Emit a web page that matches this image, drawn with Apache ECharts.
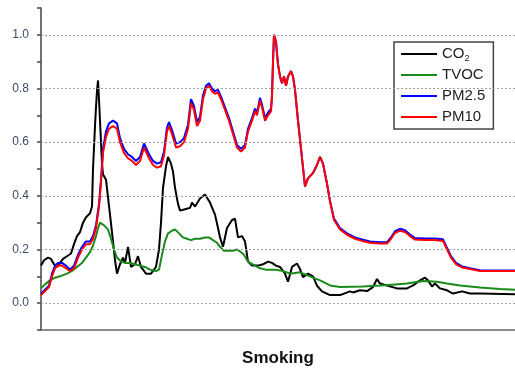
<!DOCTYPE html>
<html>
<head>
<meta charset="utf-8">
<script src="https://cdn.jsdelivr.net/npm/echarts@6/dist/echarts.min.js"></script>
<style>
  html, body { margin: 0; padding: 0; background: #fff; }
  #chart { width: 515px; height: 372px; }
</style>
</head>
<body>
<div id="chart"></div>
<script>
// time index (arbitrary units) and normalised readings
const pmTime = [41, 45, 49, 52, 55, 58, 62, 66, 70, 74, 78, 82, 86, 90, 93, 96, 99, 101, 103, 106, 109, 113, 117, 120, 124, 128, 132, 136, 140, 144, 146, 149, 153, 157, 161, 164, 167, 169, 172, 176, 180, 184, 188, 191, 194, 197, 200, 203, 206, 209, 212, 215, 218, 221, 225, 229, 233, 237, 241, 245, 248, 252, 255, 257, 260, 262, 265, 268, 271, 272, 273, 274, 276, 277, 278, 280, 282, 284, 286, 288, 291, 293, 295, 298, 302, 305, 308, 313, 317, 320, 323, 327, 330, 334, 340, 347, 355, 362, 370, 380, 387, 391, 395, 400, 405, 410, 415, 425, 435, 443, 447, 451, 456, 462, 470, 480, 495, 515];
const pm10 = [0.03, 0.045, 0.06, 0.10, 0.13, 0.14, 0.14, 0.13, 0.12, 0.13, 0.17, 0.20, 0.22, 0.22, 0.24, 0.28, 0.36, 0.45, 0.56, 0.62, 0.65, 0.66, 0.65, 0.60, 0.56, 0.54, 0.53, 0.515, 0.53, 0.58, 0.585, 0.54, 0.515, 0.505, 0.51, 0.55, 0.64, 0.66, 0.63, 0.58, 0.585, 0.60, 0.65, 0.745, 0.72, 0.66, 0.68, 0.76, 0.80, 0.81, 0.79, 0.78, 0.785, 0.76, 0.72, 0.68, 0.63, 0.58, 0.565, 0.58, 0.64, 0.68, 0.715, 0.70, 0.755, 0.73, 0.68, 0.70, 0.715, 0.77, 0.90, 1.0, 0.975, 0.93, 0.89, 0.845, 0.82, 0.845, 0.81, 0.845, 0.865, 0.845, 0.795, 0.68, 0.54, 0.435, 0.465, 0.485, 0.515, 0.545, 0.52, 0.445, 0.38, 0.31, 0.275, 0.255, 0.24, 0.232, 0.225, 0.222, 0.222, 0.24, 0.262, 0.27, 0.265, 0.25, 0.237, 0.235, 0.235, 0.232, 0.20, 0.17, 0.145, 0.133, 0.127, 0.12, 0.12, 0.12];
const pm25 = [0.035, 0.05, 0.065, 0.11, 0.14, 0.15, 0.15, 0.14, 0.125, 0.14, 0.18, 0.21, 0.23, 0.23, 0.25, 0.29, 0.37, 0.46, 0.575, 0.64, 0.67, 0.68, 0.67, 0.615, 0.575, 0.555, 0.545, 0.53, 0.545, 0.595, 0.60, 0.555, 0.53, 0.52, 0.525, 0.565, 0.655, 0.675, 0.645, 0.595, 0.60, 0.615, 0.665, 0.76, 0.735, 0.675, 0.695, 0.775, 0.81, 0.82, 0.80, 0.79, 0.795, 0.77, 0.73, 0.69, 0.64, 0.59, 0.575, 0.59, 0.65, 0.69, 0.725, 0.71, 0.765, 0.74, 0.69, 0.71, 0.725, 0.775, 0.90, 1.0, 0.975, 0.93, 0.89, 0.845, 0.82, 0.845, 0.81, 0.845, 0.865, 0.845, 0.795, 0.68, 0.54, 0.435, 0.465, 0.485, 0.515, 0.545, 0.52, 0.445, 0.38, 0.315, 0.28, 0.26, 0.245, 0.237, 0.23, 0.227, 0.227, 0.245, 0.268, 0.277, 0.272, 0.256, 0.243, 0.241, 0.241, 0.238, 0.206, 0.175, 0.15, 0.137, 0.13, 0.123, 0.122, 0.122];

const co2Time = [41, 44, 48, 51, 54, 57, 60, 63, 67, 71, 74, 77, 80, 83, 86, 90, 92, 93, 95, 96, 97, 98, 99, 100, 102, 103, 106, 110, 113, 115, 117, 120, 123, 125, 128, 131, 135, 138, 141, 146, 151, 156, 159, 161, 163, 166, 168, 171, 173, 175, 178, 180, 185, 190, 192, 195, 200, 205, 210, 215, 218, 220, 223, 227, 232, 235, 238, 242, 245, 248, 252, 258, 263, 268, 272, 276, 280, 285, 288, 292, 297, 300, 303, 308, 313, 317, 322, 330, 340, 350, 353, 360, 367, 373, 377, 380, 387, 397, 407, 413, 420, 425, 428, 432, 435, 440, 447, 453, 462, 470, 480, 515];
const co2 = [0.14, 0.16, 0.17, 0.165, 0.145, 0.135, 0.15, 0.165, 0.175, 0.185, 0.22, 0.25, 0.265, 0.30, 0.32, 0.335, 0.36, 0.50, 0.66, 0.73, 0.79, 0.83, 0.76, 0.68, 0.52, 0.48, 0.46, 0.33, 0.23, 0.16, 0.11, 0.145, 0.17, 0.15, 0.21, 0.135, 0.145, 0.175, 0.135, 0.11, 0.11, 0.135, 0.20, 0.30, 0.43, 0.51, 0.545, 0.52, 0.49, 0.43, 0.37, 0.345, 0.35, 0.355, 0.375, 0.36, 0.39, 0.405, 0.375, 0.33, 0.28, 0.245, 0.21, 0.28, 0.31, 0.315, 0.245, 0.25, 0.23, 0.155, 0.14, 0.14, 0.145, 0.155, 0.15, 0.14, 0.135, 0.11, 0.08, 0.135, 0.148, 0.127, 0.097, 0.11, 0.10, 0.065, 0.044, 0.03, 0.03, 0.044, 0.04, 0.048, 0.045, 0.06, 0.09, 0.073, 0.066, 0.055, 0.055, 0.066, 0.085, 0.095, 0.085, 0.062, 0.073, 0.055, 0.048, 0.036, 0.044, 0.036, 0.036, 0.033];

const tvocTime = [41, 45, 50, 55, 60, 67, 72, 77, 82, 86, 90, 93, 96, 98, 100, 104, 108, 111, 114, 117, 121, 125, 130, 135, 140, 145, 150, 156, 159, 162, 165, 168, 172, 175, 179, 183, 187, 191, 195, 200, 205, 209, 213, 217, 220, 224, 228, 233, 237, 241, 244, 247, 250, 255, 260, 266, 275, 283, 290, 300, 310, 320, 330, 340, 363, 380, 395, 407, 423, 437, 447, 460, 480, 500, 515];
const tvoc = [0.055, 0.07, 0.085, 0.095, 0.10, 0.11, 0.12, 0.135, 0.15, 0.17, 0.19, 0.215, 0.25, 0.28, 0.30, 0.29, 0.275, 0.24, 0.20, 0.17, 0.155, 0.15, 0.15, 0.145, 0.14, 0.135, 0.125, 0.12, 0.125, 0.18, 0.23, 0.26, 0.27, 0.275, 0.26, 0.245, 0.24, 0.235, 0.24, 0.24, 0.245, 0.245, 0.235, 0.225, 0.21, 0.195, 0.195, 0.195, 0.20, 0.19, 0.18, 0.16, 0.15, 0.14, 0.13, 0.125, 0.125, 0.12, 0.11, 0.115, 0.10, 0.085, 0.066, 0.06, 0.062, 0.066, 0.07, 0.073, 0.083, 0.08, 0.073, 0.066, 0.058, 0.053, 0.05];

const gridValues = [0, 0.2, 0.4, 0.6, 0.8, 1.0];
const seriesNames = ["CO2", "TVOC", "PM2.5", "PM10"];

const zip = (t, v) => t.map((x, i) => [x, v[i]]);

const chart = echarts.init(document.getElementById("chart"));
const lineSeries = (name, data, color) => ({
  name,
  type: "line",
  data,
  showSymbol: false,
  symbol: "none",
  lineStyle: { color, width: 2 },
  itemStyle: { color },
  animation: false,
});

chart.setOption({
  animation: false,
  grid: { left: 41, right: 0, top: 8, bottom: 35 },
  legend: {
    data: seriesNames,
    orient: "vertical",
    left: 394,
    top: 42,
    icon: "rect",
    itemWidth: 36,
    itemHeight: 2,
    itemGap: 3,
    padding: [3, 8, 3, 7],
    borderColor: "#444",
    borderWidth: 1.5,
    backgroundColor: "#fff",
    formatter: (name) => (name === "CO2" ? "{n|CO}{s|2}" : name),
    textStyle: {
      fontFamily: "Liberation Sans, Arial",
      fontSize: 15,
      lineHeight: 18,
      color: "#222",
      rich: {
        n: { fontFamily: "Liberation Sans, Arial", fontSize: 15, color: "#222" },
        s: { fontFamily: "Liberation Sans, Arial", fontSize: 9, color: "#222", padding: [9, 0, 0, 0] },
      },
    },
  },
  xAxis: {
    type: "value",
    min: 41,
    max: 515,
    name: "Smoking",
    nameLocation: "middle",
    nameGap: 20,
    nameTextStyle: { fontFamily: "Liberation Sans, Arial", fontSize: 17, fontWeight: "bold", color: "#111" },
    axisLine: { show: true, onZero: false, lineStyle: { color: "#666", width: 1.5 } },
    axisTick: { show: false },
    axisLabel: { show: false },
    splitLine: { show: false },
  },
  yAxis: {
    type: "value",
    min: -0.1,
    max: 1.1,
    interval: 0.1,
    axisLine: { show: true, lineStyle: { color: "#444", width: 1.5 } },
    axisTick: { show: true, length: 4, lineStyle: { color: "#444", width: 1.5 } },
    axisLabel: {
      margin: 12,
      fontFamily: "Liberation Sans, Arial",
      fontSize: 12,
      color: "#3c4a6e",
      formatter: (v) => (Math.round(v * 10) % 2 === 0 ? v.toFixed(1) : ""),
    },
    splitLine: { show: false },
  },
  series: [
    {
      name: "grid",
      type: "line",
      data: [],
      z: 0,
      markLine: {
        silent: true,
        symbol: "none",
        label: { show: false },
        lineStyle: { color: "#a0a0a0", type: [2, 2], width: 1 },
        data: gridValues.map((v) => ({ yAxis: v })),
        animation: false,
      },
    },
    lineSeries("CO2", zip(co2Time, co2), "#000000"),
    lineSeries("TVOC", zip(tvocTime, tvoc), "#1a8a1a"),
    lineSeries("PM2.5", zip(pmTime, pm25), "#0000ff"),
    lineSeries("PM10", zip(pmTime, pm10), "#ff0000"),
  ],
});
</script>
</body>
</html>
